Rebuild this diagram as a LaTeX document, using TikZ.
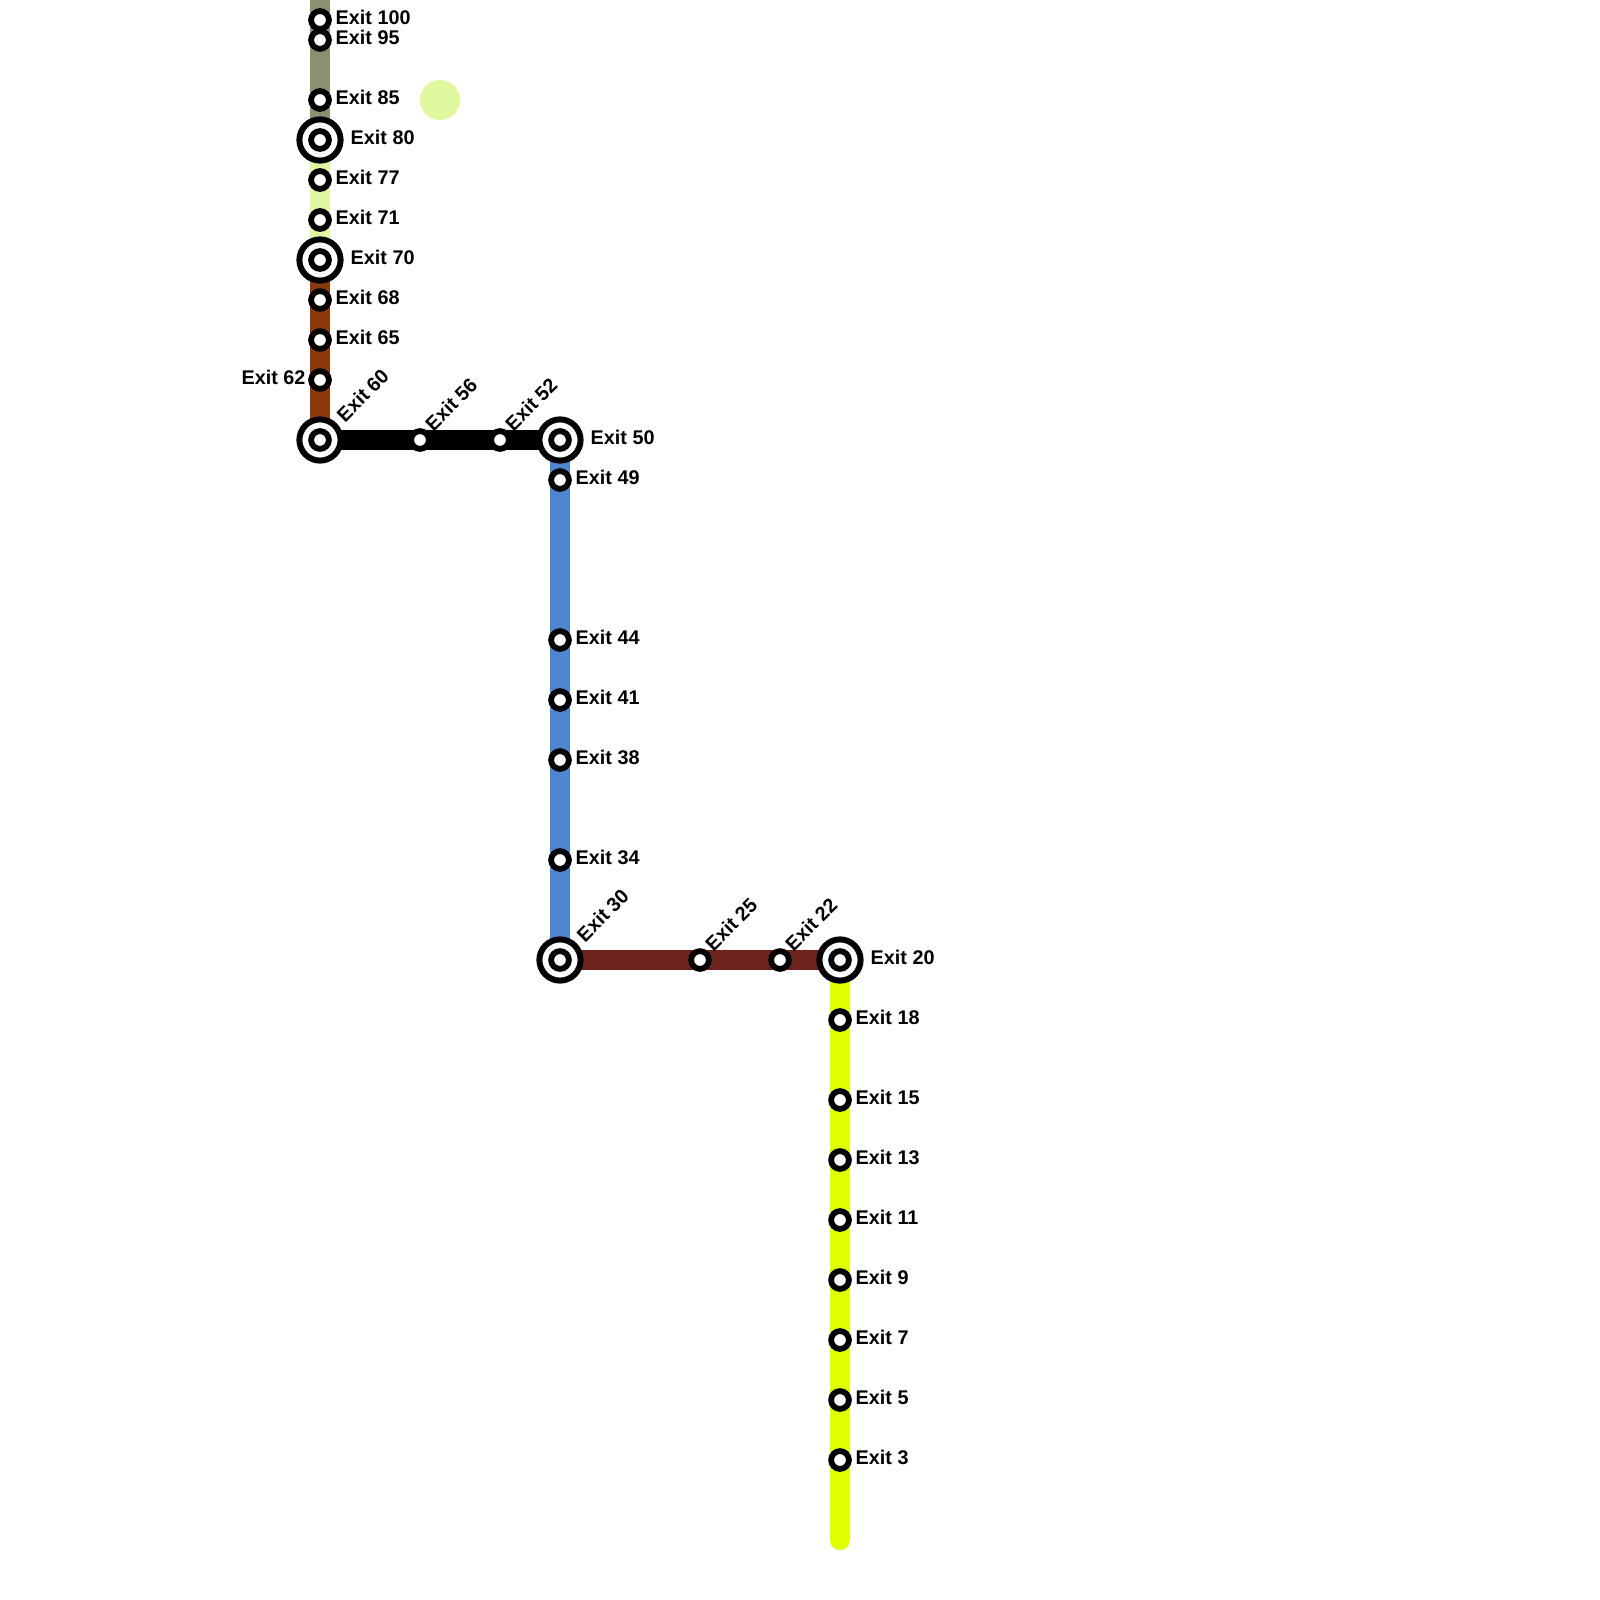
\documentclass[tikz,border=0pt]{standalone}
\usepackage{fontspec}
\setmainfont{Liberation Sans}
\usetikzlibrary{backgrounds}
\definecolor{reed}{RGB}{141,144,112}
\definecolor{pale}{RGB}{224,248,160}
\definecolor{rust}{RGB}{139,58,12}
\definecolor{sky}{RGB}{79,134,208}
\definecolor{oxblood}{RGB}{107,35,28}
\definecolor{lime}{RGB}{224,255,0}
\tikzset{
  stopdot/.style={circle,draw=black,fill=white,line width=2.9pt,minimum size=8.9pt,inner sep=0pt,outer sep=0pt},
  hubring/.style={circle,draw=black,fill=white,line width=3pt,minimum size=20.6pt,inner sep=0pt,outer sep=0pt},
  track/.style={line width=10pt},
  exitlabel/.style={inner sep=0pt,outer sep=0pt,anchor=base west},
}

\begin{document}
\begin{tikzpicture}[x=.5pt,y=-.5pt,font=\fontsize{9.9pt}{12pt}\selectfont\bfseries]
  \useasboundingbox (0,0) rectangle (1600,1600);
  \coordinate (trackTop) at (320,0);
  \coordinate (trackEnd) at (840,1540);
  \node[circle,fill=pale,minimum size=20pt,inner sep=0pt] (spot) at (440,100) {};
  % hubs first, plain stops on top
  \foreach \n/\x/\y in {80/320/140,70/320/260,60/320/440,50/560/440,30/560/960,20/840/960}
    \node[hubring] (h\n) at (\x,\y) {};
  \foreach \n/\x/\y in {100/320/20,95/320/40,85/320/100,80/320/140,77/320/180,71/320/220,70/320/260,68/320/300,65/320/340,62/320/380,60/320/440,
    56/420/440,52/500/440,50/560/440,49/560/480,44/560/640,41/560/700,38/560/760,34/560/860,30/560/960,
    25/700/960,22/780/960,20/840/960,18/840/1020,15/840/1100,13/840/1160,11/840/1220,9/840/1280,7/840/1340,5/840/1400,3/840/1460}
    \node[stopdot] (s\n) at (\x,\y) {};
  % labels to the right
  \foreach \n in {100,95,85,77,71,68,65,49,44,41,38,34,18,15,13,11,9,7,5,3}
    \node[exitlabel] (l\n) at ([shift={(15.7,4.8)}]s\n.center) {Exit \n};
  \foreach \n in {80,70,50,20}
    \node[exitlabel] (l\n) at ([shift={(30.7,4.8)}]s\n.center) {Exit \n};
  \node[exitlabel,anchor=base east] (l62) at ([shift={(-14.5,4.8)}]s62.center) {Exit 62};
  \foreach \n in {60,30}
    \node[exitlabel,rotate=45] (l\n) at ([shift={(25,-17)}]s\n.center) {Exit \n};
  \foreach \n in {56,52,25,22}
    \node[exitlabel,rotate=45] (l\n) at ([shift={(13.5,-8)}]s\n.center) {Exit \n};
  \begin{scope}[on background layer]
    \draw[track,reed] (trackTop) -- (s80);
    \draw[track,pale] (s80) -- (s70);
    \draw[track,rust] (s70) -- (s60);
    \draw[track,black] (s60) -- (s50);
    \draw[track,sky] (s50) -- (s30);
    \draw[track,oxblood] (s30) -- (s20);
    \draw[track,lime,line cap=round] (s20) -- (trackEnd);
  \end{scope}
\end{tikzpicture}
\end{document}
